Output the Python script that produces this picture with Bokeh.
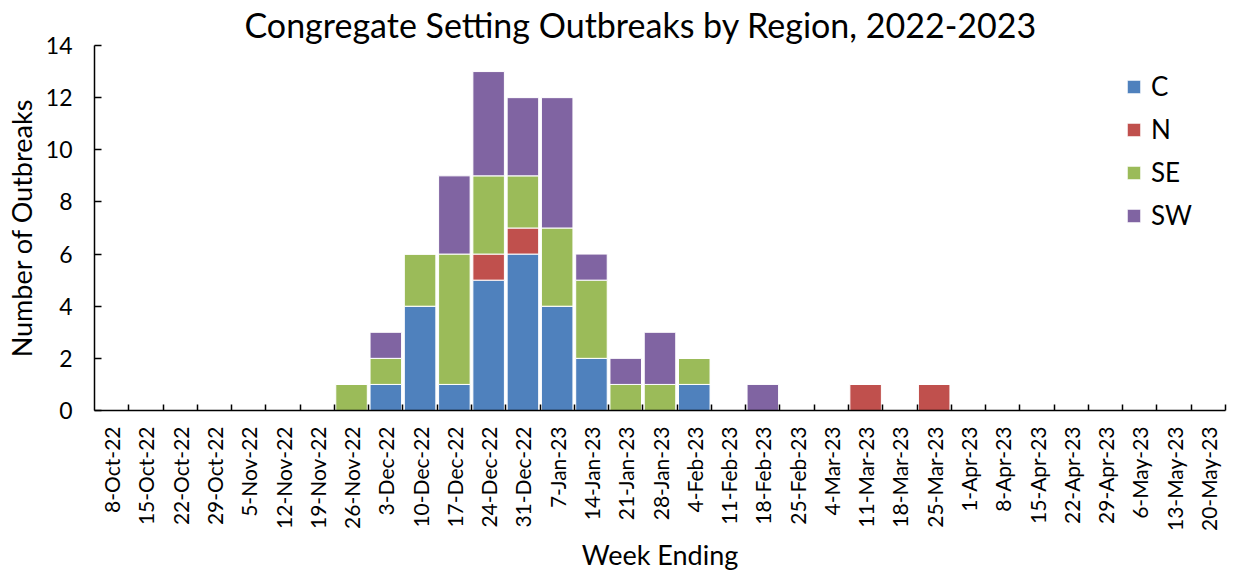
import math
from bokeh.plotting import figure
from bokeh.models import Range1d, FixedTicker, Legend, LegendItem, ColumnDataSource
from bokeh.embed import file_html
from bokeh.resources import INLINE

weeks = ["8-Oct-22", "15-Oct-22", "22-Oct-22", "29-Oct-22", "5-Nov-22", "12-Nov-22",
         "19-Nov-22", "26-Nov-22", "3-Dec-22", "10-Dec-22", "17-Dec-22", "24-Dec-22",
         "31-Dec-22", "7-Jan-23", "14-Jan-23", "21-Jan-23", "28-Jan-23", "4-Feb-23",
         "11-Feb-23", "18-Feb-23", "25-Feb-23", "4-Mar-23", "11-Mar-23", "18-Mar-23",
         "25-Mar-23", "1-Apr-23", "8-Apr-23", "15-Apr-23", "22-Apr-23", "29-Apr-23",
         "6-May-23", "13-May-23", "20-May-23"]
C  = [0, 0, 0, 0, 0, 0, 0, 0, 1, 4, 1, 5, 6, 4, 2, 0, 0, 1, 0, 0, 0, 0, 0, 0, 0, 0, 0, 0, 0, 0, 0, 0, 0]
N  = [0, 0, 0, 0, 0, 0, 0, 0, 0, 0, 0, 1, 1, 0, 0, 0, 0, 0, 0, 0, 0, 0, 1, 0, 1, 0, 0, 0, 0, 0, 0, 0, 0]
SE = [0, 0, 0, 0, 0, 0, 0, 1, 1, 2, 5, 3, 2, 3, 3, 1, 1, 1, 0, 0, 0, 0, 0, 0, 0, 0, 0, 0, 0, 0, 0, 0, 0]
SW = [0, 0, 0, 0, 0, 0, 0, 0, 1, 0, 3, 4, 3, 5, 1, 1, 2, 0, 0, 1, 0, 0, 0, 0, 0, 0, 0, 0, 0, 0, 0, 0, 0]
regions = ["C", "N", "SE", "SW"]
colors = ["#4F81BD", "#C0504D", "#9BBB59", "#8064A2"]
y_ticks = [0, 2, 4, 6, 8, 10, 12, 14]

FONT = "Lato"
n = len(weeks)
centers = [i + 0.5 for i in range(n)]
bounds = [float(i) for i in range(1, n + 1)]

source = ColumnDataSource(dict(x=centers, C=C, N=N, SE=SE, SW=SW))

p = figure(width=1227, height=574, output_backend="svg", toolbar_location=None,
           x_range=Range1d(0, n), y_range=Range1d(0, 14),
           min_border_left=94, min_border_right=2, min_border_top=0,
           min_border_bottom=150)
p.outline_line_color = None
p.grid.visible = False

rends = p.vbar_stack(regions, x="x", width=0.92, fill_color=colors,
                     line_color="white", line_width=1, source=source)

p.title.text = "Congregate Setting Outbreaks by Region, 2022-2023"
p.title.text_font = FONT
p.title.text_font_size = "34px"
p.title.text_font_style = "normal"
p.title.text_color = "black"
p.title.align = "left"
p.title.offset = 150
p.title.standoff = 2

# x axis
xa = p.xaxis[0]
xa.ticker = FixedTicker(ticks=centers, minor_ticks=bounds)
xa.major_label_overrides = {c: w for c, w in zip(centers, weeks)}
xa.major_label_orientation = math.pi / 2
xa.major_tick_in = 0
xa.major_tick_out = 0
xa.minor_tick_in = 6
xa.minor_tick_out = 0
xa.minor_tick_line_color = "black"
xa.minor_tick_line_width = 1.5
xa.axis_line_width = 1.5
xa.axis_line_color = "black"
xa.major_label_text_font = FONT
xa.major_label_text_font_size = "21px"
xa.major_label_text_color = "black"
xa.major_label_standoff = 16
xa.axis_label = "Week Ending"
xa.axis_label_text_font = FONT
xa.axis_label_text_font_size = "27px"
xa.axis_label_text_font_style = "normal"
xa.axis_label_text_color = "black"
xa.axis_label_standoff = 4

# y axis
ya = p.yaxis[0]
ya.ticker = FixedTicker(ticks=y_ticks)
ya.major_tick_in = 7
ya.major_tick_out = 0
ya.minor_tick_in = 0
ya.minor_tick_out = 0
ya.axis_line_width = 1.5
ya.axis_line_color = "black"
ya.major_tick_line_width = 1.5
ya.major_label_text_font = FONT
ya.major_label_text_font_size = "23px"
ya.major_label_text_color = "black"
ya.major_label_standoff = 22
ya.axis_label = "Number of Outbreaks"
ya.axis_label_text_font = FONT
ya.axis_label_text_font_size = "27px"
ya.axis_label_text_font_style = "normal"
ya.axis_label_text_color = "black"
ya.axis_label_standoff = 5

legend = Legend(items=[LegendItem(label=r, renderers=[g]) for r, g in zip(regions, rends)],
                location=(1031, 179), glyph_width=17, glyph_height=17,
                label_standoff=9, label_text_font=FONT, label_text_font_size="26px",
                label_text_color="black",
                label_height=25, spacing=11, padding=0, margin=0,
                border_line_color=None, background_fill_alpha=0)
p.add_layout(legend)

open("out.html", "w").write(file_html(p, INLINE))
